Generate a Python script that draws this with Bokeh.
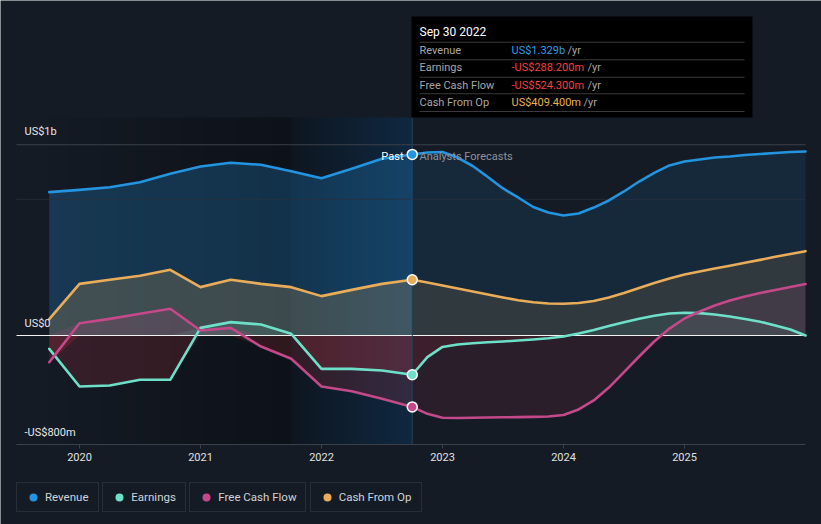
import numpy as np
from bokeh.plotting import figure
from bokeh.models import Range1d, LinearAxis, FixedTicker, Label, BoxAnnotation, Legend, LegendItem
from bokeh.embed import file_html
from bokeh.resources import INLINE

# ---------------- data (US$ millions) ----------------
past_x = [2019.75, 2020.0, 2020.25, 2020.5, 2020.75, 2021.0, 2021.25, 2021.5,
          2021.75, 2022.0, 2022.25, 2022.5, 2022.75]
fc_x = [2022.875, 2023.0, 2023.125, 2023.25, 2023.375, 2023.5, 2023.625, 2023.75, 2023.875,
        2024.0, 2024.125, 2024.25, 2024.375, 2024.5, 2024.625, 2024.75, 2024.875,
        2025.0, 2025.125, 2025.25, 2025.375, 2025.5, 2025.625, 2025.75, 2025.875, 2026.0]

revenue_past = [1052, 1069, 1088, 1125, 1187, 1240, 1268, 1253, 1206, 1154, 1223, 1297, 1329]
revenue_fc = [1343, 1347, 1306, 1244, 1163, 1079, 1013, 943, 903, 881, 895, 939, 991,
              1057, 1130, 1193, 1248, 1277, 1292, 1306, 1314, 1325, 1332, 1339, 1347, 1350]

earnings_past = [-98, -374, -367, -325, -325, 56, 98, 81, 12, -245, -245, -257, -288]
earnings_fc = [-159, -84, -66, -57, -50, -44, -37, -29, -20, -7, 15, 40, 70,
               98, 123, 145, 161, 167, 164, 154, 139, 121, 101, 73, 44, 0]

fcf_past = [-196, 90, 122, 159, 196, 37, 56, -81, -171, -374, -409, -465, -524]
fcf_fc = [-575, -604, -606, -604, -602, -600, -599, -597, -594, -583, -543, -477, -382,
          -269, -154, -44, 51, 125, 176, 220, 257, 286, 312, 334, 356, 378]

cfo_past = [120, 379, 409, 438, 482, 355, 409, 379, 355, 289, 335, 379, 409]
cfo_fc = [389, 367, 345, 323, 301, 279, 259, 244, 235, 233, 239, 253, 279,
          312, 349, 385, 418, 448, 470, 492, 512, 534, 555, 578, 598, 619]

series_names = ["Revenue", "Earnings", "Free Cash Flow", "Cash From Op"]
series_colors = ["#2394df", "#6ee0c9", "#c4498a", "#e9ad5a"]

tick_years = [2020, 2021, 2022, 2023, 2024, 2025]
tick_labels = ["2020", "2021", "2022", "2023", "2024", "2025"]

y_label_texts = ["US$1b", "US$0", "-US$800m"]
grid_values = [1400, 1000]
y_bottom = -800

tooltip_title = "Sep 30 2022"
tooltip_values = ["US$1.329b", "-US$288.200m", "-US$524.300m", "US$409.400m"]
tooltip_value_colors = ["#2d9be6", "#f0413f", "#f0413f", "#e8b04e"]

# ---------------- layout helpers ----------------
BG = "#151b25"
FONT = "Roboto"
X0_PX, PX_PER_YEAR = 79.0, 121.0     # 2020 at page x=79
Y0_PX, PX_PER_M = 335.0, 0.13625     # 0 at page y=335
W, H = 821, 524


def px2x(X):
    return 2020 + (X - X0_PX) / PX_PER_YEAR


def px2y(Y):
    return (Y0_PX - Y) / PX_PER_M


p = figure(width=W, height=H, output_backend="svg", toolbar_location=None,
           x_range=Range1d(px2x(0), px2x(W)), y_range=Range1d(px2y(H), px2y(0)),
           x_axis_type=None, y_axis_type=None, min_border=0,
           background_fill_color=BG, border_fill_color=BG, outline_line_color=None)

x_left, x_right = px2x(16), fc_x[-1]
split = past_x[-1]
band_start = split - 1.0
region_top = px2y(117)


def ramp(c0, c1, n=160):
    t = np.linspace(0, 1, n)
    arr = np.zeros((1, n, 4), dtype=np.uint8)
    for i in range(3):
        arr[0, :, i] = np.round(c0[i] + (c1[i] - c0[i]) * t)
    arr[0, :, 3] = 255
    return arr.view(np.uint32).reshape(1, n)


# past region darkening and last-year band
p.image_rgba(image=[ramp((20, 26, 36), (13, 17, 24))], x=past_x[0], y=y_bottom,
             dw=band_start - past_x[0], dh=region_top - y_bottom)
p.image_rgba(image=[ramp((14, 22, 32), (15, 40, 64))], x=band_start, y=y_bottom,
             dw=split - band_start, dh=region_top - y_bottom)

past = [revenue_past, earnings_past, fcf_past, cfo_past]
fc = [revenue_fc, earnings_fc, fcf_fc, cfo_fc]

# area fills
pos_alpha_past = [0.25, 0.10, 0.16, 0.20]
pos_alpha_fc = [0.12, 0.08, 0.12, 0.12]
NEG = "#e0394a"
fc_fill_x = [split] + fc_x
for k in [0, 3, 2, 1]:
    pv = np.array(past[k], dtype=float)
    fv = np.array([past[k][-1]] + fc[k], dtype=float)
    p.varea(x=past_x, y1=np.maximum(pv, 0), y2=0, fill_color=series_colors[k],
            fill_alpha=pos_alpha_past[k])
    p.varea(x=fc_fill_x, y1=np.maximum(fv, 0), y2=0, fill_color=series_colors[k],
            fill_alpha=pos_alpha_fc[k])
    if pv.min() < 0:
        p.varea(x=past_x, y1=np.minimum(pv, 0), y2=0, fill_color=NEG, fill_alpha=0.17)
    if fv.min() < 0:
        p.varea(x=fc_fill_x, y1=np.minimum(fv, 0), y2=0, fill_color=NEG, fill_alpha=0.10)

# grid lines, axis line, zero line, divider
p.segment(x0=x_left, x1=x_right, y0=grid_values[0], y1=grid_values[0], line_color="#3b404a", line_width=1)
p.segment(x0=x_left, x1=x_right, y0=grid_values[1], y1=grid_values[1], line_color="#2a313d", line_width=1, line_alpha=0.8)
p.segment(x0=x_left, x1=x_right, y0=y_bottom, y1=y_bottom, line_color="#3b404a", line_width=1)
p.segment(x0=x_left, x1=x_right, y0=0, y1=0, line_color="#f2f2f2", line_width=1)
p.segment(x0=split, x1=split, y0=y_bottom, y1=region_top, line_color="#24405c", line_width=1)

# lines
full_x = past_x + fc_x
for k in range(4):
    p.line(x=full_x, y=past[k] + fc[k], line_color=series_colors[k], line_width=2.6,
           line_join="round", line_cap="round")

# current-point markers
for k in range(4):
    p.scatter(x=[split], y=[past[k][-1]], size=10, fill_color=series_colors[k],
              line_color="#ffffff", line_width=1.5)

# x axis
xaxis = LinearAxis(fixed_location=y_bottom, ticker=FixedTicker(ticks=tick_years),
                   major_label_overrides={t: s for t, s in zip(tick_years, tick_labels)},
                   axis_line_color=None, major_tick_line_color="#3b404a",
                   major_tick_out=4, major_tick_in=0, minor_tick_line_color=None,
                   major_label_text_color="#e0e0e0", major_label_text_font=FONT,
                   major_label_text_font_size="11px", major_label_standoff=4)
p.add_layout(xaxis, "below")

# y labels
for txt, Y in zip(y_label_texts, [131, 323, 432]):
    p.add_layout(Label(x=px2x(24), y=px2y(Y), text=txt, text_color="#e6e6e6",
                       text_font=FONT, text_font_size="11px", text_baseline="middle"))

# Past / forecast labels
p.add_layout(Label(x=px2x(403), y=px2y(156), text="Past", text_align="right",
                   text_baseline="middle", text_color="#ffffff", text_font=FONT,
                   text_font_size="11px"))
p.add_layout(Label(x=px2x(419), y=px2y(156), text="Analysts Forecasts",
                   text_baseline="middle", text_color="#8d929b", text_font=FONT,
                   text_font_size="11px"))

# tooltip box
p.add_layout(BoxAnnotation(left=px2x(411), right=px2x(752), top=px2y(16), bottom=px2y(117),
                           fill_color="#000000", fill_alpha=1.0, line_color=None))
for Y in [41.7, 59.3, 76.7, 93.3, 111.0]:
    p.add_layout(BoxAnnotation(left=px2x(419), right=px2x(744), top=px2y(Y - 0.5),
                               bottom=px2y(Y + 0.5), fill_color="#3a3a3a", fill_alpha=1.0,
                               line_color=None))
p.add_layout(Label(x=px2x(419), y=px2y(31), text=tooltip_title, text_baseline="middle",
                   text_color="#ffffff", text_font=FONT, text_font_size="12px"))
row_y = [50, 67, 84.5, 101.5]
yr_x = [567, 587, 587, 583]
for k in range(4):
    p.add_layout(Label(x=px2x(419), y=px2y(row_y[k]), text=series_names[k], text_baseline="middle",
                       text_color="#a6a6a6", text_font=FONT, text_font_size="11px"))
    p.add_layout(Label(x=px2x(511), y=px2y(row_y[k]), text=tooltip_values[k], text_baseline="middle",
                       text_color=tooltip_value_colors[k], text_font=FONT, text_font_size="11px"))
    p.add_layout(Label(x=px2x(yr_x[k]), y=px2y(row_y[k]), text="/yr", text_baseline="middle",
                       text_color="#a6a6a6", text_font=FONT, text_font_size="11px"))

# legend: one box per series
legend_left = [16, 102.3, 189.3, 309.7]
legend_label_w = [49, 50, 83, 78]
for k in range(4):
    r = p.scatter(x=[np.nan], y=[np.nan], size=8, fill_color=series_colors[k], line_color=None)
    leg = Legend(items=[LegendItem(label=series_names[k], renderers=[r], index=0)],
                 location=(legend_left[k], 12.3), orientation="horizontal",
                 padding=4, margin=0, glyph_width=24, glyph_height=20, label_height=20,
                 label_width=legend_label_w[k], label_standoff=0,
                 label_text_font=FONT, label_text_font_size="11.5px", label_text_color="#d0d3d8",
                 background_fill_color=BG, background_fill_alpha=1.0,
                 border_line_color="#3c414b", border_line_width=1)
    p.add_layout(leg)

open("out.html", "w").write(file_html(p, INLINE))
